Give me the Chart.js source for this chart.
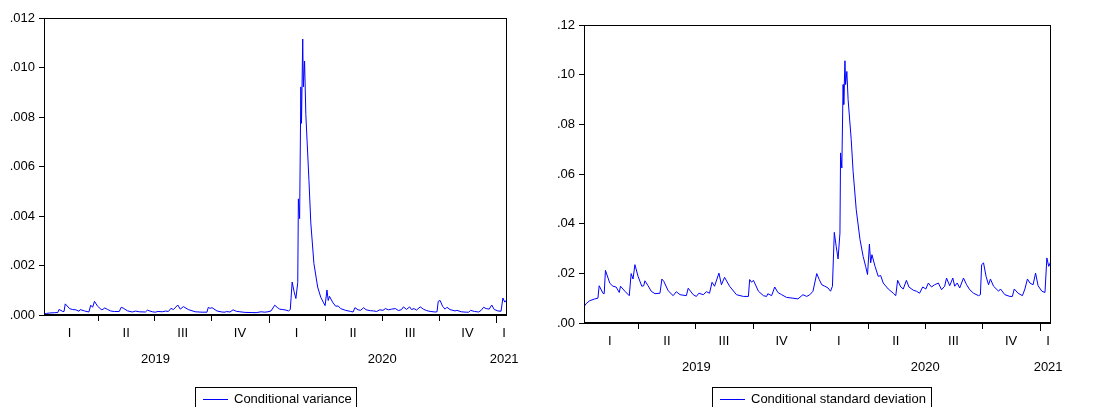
<!DOCTYPE html>
<html>
<head>
<meta charset="utf-8">
<script src="https://cdn.jsdelivr.net/npm/chart.js@4.4.0/dist/chart.umd.min.js"></script>
<style>
  body { margin: 0; background: #fff; width: 1097px; height: 407px; overflow: hidden; position: relative; font-family: "Liberation Sans", Arial, sans-serif; }
  .box { position: absolute; top: 0; height: 407px; }
  .legend { position: absolute; top: 387px; height: 24px; border: 1px solid #000; box-sizing: border-box; font-size: 13px; line-height: 21px; color: #000; white-space: nowrap; }
  .legend .line { display: inline-block; width: 25px; border-top: 1px solid #0000ff; vertical-align: middle; margin: 0 6px 0 7px; }
</style>
</head>
<body>
<div class="box" style="left:0;width:545px"><canvas id="varChart"></canvas></div>
<div class="box" style="left:545px;width:552px"><canvas id="sdChart"></canvas></div>
<div class="legend" style="left:195px;width:162px"><span class="line"></span>Conditional variance</div>
<div class="legend" style="left:712px;width:220px"><span class="line"></span>Conditional standard deviation</div>
<script>
// day number counted from 1 Jan 2019
const days = [4, 8, 13, 21, 26, 28, 34, 36, 38, 45, 50, 55, 60, 62, 69, 76, 79, 82, 85, 90,
  96, 99, 101, 106, 111, 117, 125, 128, 131, 138, 146, 151, 157, 167, 170, 178, 183, 187, 194, 199,
  204, 208, 212, 219, 223, 228, 236, 247, 258, 266, 268, 271, 274, 282, 290, 295, 297, 303, 308, 313,
  319, 327, 337, 345, 353, 359, 364, 369, 375, 379, 383, 388, 393, 397, 400, 403, 406, 409, 412, 413,
  415, 417, 418, 420, 421, 423, 425, 430, 433, 438, 444, 449, 453, 456, 459, 461, 463, 468, 473, 477,
  481, 489, 497, 501, 504, 509, 513, 518, 522, 529, 534, 539, 544, 549, 553, 558, 563, 569, 574, 579,
  582, 587, 592, 595, 599, 603, 609, 614, 619, 625, 633, 636, 638, 641, 645, 649, 652, 657, 665, 668,
  675, 683, 687, 690, 696, 703, 707, 711, 715, 720, 724, 728, 734, 739, 742, 745, 749];

const condStdDev = [.0067, .008, .009, .0097, .010, .015, .012, .0118, .0212, .016, .0148, .0145, .0123, .0148, .0128, .011, .0199, .0177, .0235, .0188,
  .0148, .015, .017, .015, .0128, .0118, .012, .0177, .0168, .013, .011, .0126, .0114, .011, .014, .0114, .0107, .012, .0114, .0126,
  .012, .0164, .0148, .0201, .0154, .0184, .0148, .0114, .0107, .0107, .0175, .0164, .0172, .0128, .011, .0107, .0118, .011, .0145, .0123,
  .0114, .0103, .010, .0097, .0114, .0107, .0114, .0128, .0199, .0175, .0154, .0148, .0141, .0128, .0148, .0365, .0309, .0258, .0362, .0685,
  .0624, .096, .088, .1056, .096, .1013, .090, .0738, .061, .0456, .0336, .0268, .0228, .0195, .0318, .0242, .0275, .0228, .0188, .0191,
  .0161, .0137, .012, .011, .0172, .0145, .0137, .0172, .0145, .0132, .0128, .012, .0145, .0137, .0161, .0145, .0154, .0161, .0134, .0148,
  .0181, .015, .0181, .0148, .0161, .0141, .0181, .0154, .0134, .012, .011, .0114, .0235, .0242, .0188, .0154, .0177, .0148, .0128, .0137,
  .0114, .0107, .0107, .0137, .012, .011, .0137, .0177, .0161, .0154, .0201, .015, .0128, .0123, .0262, .0228, .0252];

const condVariance = [.000045, .000064, .000081, .000094, .000100, .000225, .000144, .000139, .000449, .000256, .000219, .000210, .000151, .000219, .000164, .000121, .000396, .000313, .000552, .000353,
  .000219, .000225, .000289, .000225, .000164, .000139, .000144, .000313, .000282, .000169, .000121, .000159, .000130, .000121, .000196, .000130, .000114, .000144, .000130, .000159,
  .000144, .000269, .000219, .000404, .000237, .000339, .000219, .000130, .000114, .000114, .000306, .000269, .000296, .000164, .000121, .000114, .000139, .000121, .000210, .000151,
  .000130, .000106, .000100, .000094, .000130, .000114, .000130, .000164, .000396, .000306, .000237, .000219, .000199, .000164, .000219, .001332, .000955, .000666, .001310, .004692,
  .003894, .009216, .007744, .011151, .009216, .010262, .008100, .005446, .003721, .002079, .001129, .000718, .000520, .000380, .001011, .000586, .000756, .000520, .000353, .000365,
  .000259, .000188, .000144, .000121, .000296, .000210, .000188, .000296, .000210, .000174, .000164, .000144, .000210, .000188, .000259, .000210, .000237, .000259, .000180, .000219,
  .000328, .000225, .000328, .000219, .000259, .000199, .000328, .000237, .000180, .000144, .000121, .000130, .000552, .000586, .000353, .000237, .000313, .000219, .000164, .000188,
  .000130, .000114, .000114, .000188, .000144, .000121, .000188, .000313, .000259, .000237, .000404, .000225, .000164, .000151, .000686, .000520, .000635];

const quarterStarts = [90, 181, 273, 365, 456, 547, 639, 731];
const yearStarts = [365, 731];
const quarterLabels = ['I', 'II', 'III', 'IV', 'I', 'II', 'III', 'IV', 'I'];
const quarterMids = [45, 136, 227, 319, 410, 501, 593, 685, 744];
const yearLabels = ['2019', '2020', '2021'];
const yearMids = [183, 548, 744];
const firstDay = 3.8, lastDay = 748.6;

Chart.defaults.font.family = '"Liberation Sans", Arial, sans-serif';
Chart.defaults.font.size = 13;
Chart.defaults.color = '#000';

// frame, quarter ticks and date labels like an EViews graph
const eviewsAxis = {
  id: 'eviewsAxis',
  afterDraw(chart) {
    const ctx = chart.ctx, a = chart.chartArea, x = chart.scales.x;
    ctx.save();
    ctx.strokeStyle = '#000';
    ctx.lineWidth = 1;
    ctx.strokeRect(a.left + 0.5, a.top + 0.5, a.right - a.left - 1, a.bottom - a.top);
    ctx.lineWidth = 2;
    ctx.beginPath();
    ctx.moveTo(a.left, a.bottom);
    ctx.lineTo(a.right, a.bottom);
    ctx.stroke();
    ctx.lineWidth = 1;
    quarterStarts.forEach(d => {
      const px = Math.round(x.getPixelForValue(d)) + 0.5;
      const len = yearStarts.includes(d) ? 8 : 6;
      ctx.beginPath();
      ctx.moveTo(px, a.bottom);
      ctx.lineTo(px, a.bottom + len);
      ctx.stroke();
    });
    ctx.fillStyle = '#000';
    ctx.font = '13px "Liberation Sans", Arial, sans-serif';
    ctx.textAlign = 'center';
    ctx.textBaseline = 'middle';
    quarterLabels.forEach((q, i) => ctx.fillText(q, x.getPixelForValue(quarterMids[i]), a.bottom + 18));
    yearLabels.forEach((yl, i) => ctx.fillText(yl, x.getPixelForValue(yearMids[i]), a.bottom + 44));
    ctx.restore();
  }
};

function makeChart(id, values, label, yMax, yStep, decimals, padding, yWidth) {
  return new Chart(document.getElementById(id), {
    type: 'line',
    data: {
      datasets: [{
        label: label,
        data: days.map((d, i) => ({ x: d, y: values[i] })),
        borderColor: '#0000ff',
        borderWidth: 1,
        pointRadius: 0,
        tension: 0,
        fill: false
      }]
    },
    options: {
      responsive: true,
      maintainAspectRatio: false,
      animation: false,
      layout: { padding: padding },
      plugins: { legend: { display: false }, tooltip: { enabled: false } },
      scales: {
        x: { type: 'linear', min: firstDay, max: lastDay, display: false },
        y: {
          min: 0,
          max: yMax,
          afterFit: s => { s.width = yWidth; },
          grid: { drawOnChartArea: false, drawTicks: true, tickLength: 5, color: '#000' },
          border: { color: '#000' },
          ticks: {
            stepSize: yStep,
            padding: 4,
            callback: v => v.toFixed(decimals).replace(/^0/, '')
          }
        }
      }
    },
    plugins: [eviewsAxis]
  });
}

makeChart('varChart', condVariance, 'Conditional variance', 0.012, 0.002, 3, { top: 18, right: 38, bottom: 92, left: 0 }, 44);
makeChart('sdChart', condStdDev, 'Conditional standard deviation', 0.12, 0.02, 2, { top: 25, right: 46, bottom: 84, left: 0 }, 39);
</script>
</body>
</html>
